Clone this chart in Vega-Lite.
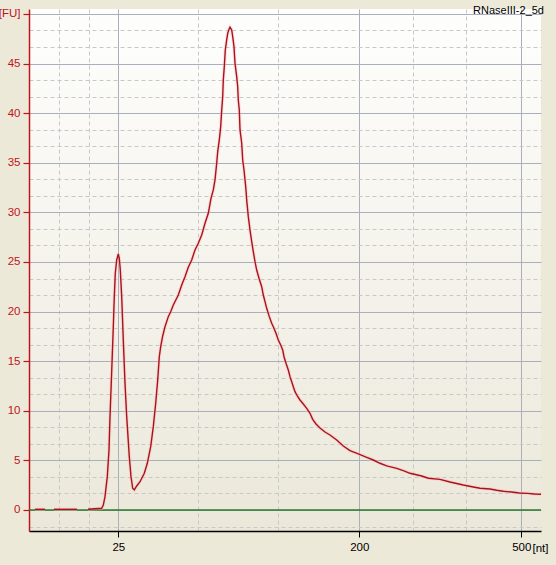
{
  "$schema": "https://vega.github.io/schema/vega-lite/v6.json",
  "width": 512,
  "height": 522,
  "autosize": "none",
  "padding": {"left": 29, "top": 9, "right": 15, "bottom": 34},
  "background": "#ece9d8",
  "title": {"text": "RNaseIII-2_5d", "anchor": "end", "fontSize": 11, "font": "Liberation Sans", "fontWeight": "normal", "color": "#000000", "offset": -8, "dx": -4},
  "config": {
    "view": {"stroke": null, "fill": {"gradient": "linear", "x1": 0, "y1": 0, "x2": 0, "y2": 1, "stops": [{"offset": 0, "color": "#fefefd"}, {"offset": 1, "color": "#ebe8da"}]}}
  },
  "datasets": {
    "curve": [
      {"t": 20.6, "v": 0.07, "seg": "a"}, {"t": 21.6, "v": 0.07, "seg": "a"},
      {"t": 22.5, "v": 0.07, "seg": "b"}, {"t": 24.8, "v": 0.07, "seg": "b"},
      {"t": 25.9, "v": 0.07, "seg": "c"},
      {"t": 27.27, "v": 0.17, "seg": "c"},
      {"t": 27.43, "v": 0.5, "seg": "c"},
      {"t": 27.6, "v": 1.34, "seg": "c"},
      {"t": 27.83, "v": 3.36, "seg": "c"},
      {"t": 28.0, "v": 6.05, "seg": "c"},
      {"t": 28.1, "v": 9.41, "seg": "c"},
      {"t": 28.2, "v": 12.1, "seg": "c"},
      {"t": 28.3, "v": 14.82, "seg": "c"},
      {"t": 28.43, "v": 18.48, "seg": "c"},
      {"t": 28.53, "v": 21.5, "seg": "c"},
      {"t": 28.63, "v": 23.86, "seg": "c"},
      {"t": 28.77, "v": 25.2, "seg": "c"},
      {"t": 28.93, "v": 25.81, "seg": "c"},
      {"t": 29.03, "v": 25.37, "seg": "c"},
      {"t": 29.13, "v": 24.19, "seg": "c"},
      {"t": 29.27, "v": 21.5, "seg": "c"},
      {"t": 29.43, "v": 17.14, "seg": "c"},
      {"t": 29.6, "v": 12.77, "seg": "c"},
      {"t": 29.77, "v": 9.41, "seg": "c"},
      {"t": 30.03, "v": 5.37, "seg": "c"},
      {"t": 30.2, "v": 3.36, "seg": "c"},
      {"t": 30.37, "v": 2.19, "seg": "c"},
      {"t": 30.53, "v": 2.02, "seg": "c"},
      {"t": 30.77, "v": 2.42, "seg": "c"},
      {"t": 31.1, "v": 2.85, "seg": "c"},
      {"t": 31.53, "v": 3.7, "seg": "c"},
      {"t": 31.83, "v": 4.71, "seg": "c"},
      {"t": 32.17, "v": 6.38, "seg": "c"},
      {"t": 32.43, "v": 8.4, "seg": "c"},
      {"t": 32.67, "v": 10.76, "seg": "c"},
      {"t": 32.87, "v": 13.1, "seg": "c"},
      {"t": 33.03, "v": 15.45, "seg": "c"},
      {"t": 33.17, "v": 16.46, "seg": "c"},
      {"t": 33.37, "v": 17.54, "seg": "c"},
      {"t": 33.6, "v": 18.48, "seg": "c"},
      {"t": 33.93, "v": 19.49, "seg": "c"},
      {"t": 34.17, "v": 19.99, "seg": "c"},
      {"t": 34.43, "v": 20.67, "seg": "c"},
      {"t": 34.93, "v": 21.67, "seg": "c"},
      {"t": 35.27, "v": 22.68, "seg": "c"},
      {"t": 35.6, "v": 23.52, "seg": "c"},
      {"t": 35.93, "v": 24.47, "seg": "c"},
      {"t": 36.27, "v": 25.2, "seg": "c"},
      {"t": 36.6, "v": 26.21, "seg": "c"},
      {"t": 36.93, "v": 26.88, "seg": "c"},
      {"t": 37.27, "v": 27.72, "seg": "c"},
      {"t": 37.6, "v": 28.9, "seg": "c"},
      {"t": 37.93, "v": 29.91, "seg": "c"},
      {"t": 38.2, "v": 31.42, "seg": "c"},
      {"t": 38.43, "v": 32.26, "seg": "c"},
      {"t": 38.6, "v": 33.27, "seg": "c"},
      {"t": 38.77, "v": 34.95, "seg": "c"},
      {"t": 38.87, "v": 36.12, "seg": "c"},
      {"t": 39.03, "v": 37.3, "seg": "c"},
      {"t": 39.17, "v": 38.64, "seg": "c"},
      {"t": 39.27, "v": 40.32, "seg": "c"},
      {"t": 39.37, "v": 41.66, "seg": "c"},
      {"t": 39.43, "v": 43.35, "seg": "c"},
      {"t": 39.53, "v": 44.69, "seg": "c"},
      {"t": 39.63, "v": 46.37, "seg": "c"},
      {"t": 39.77, "v": 47.38, "seg": "c"},
      {"t": 39.87, "v": 48.05, "seg": "c"},
      {"t": 40.0, "v": 48.46, "seg": "c"},
      {"t": 40.1, "v": 48.66, "seg": "c"},
      {"t": 40.27, "v": 48.39, "seg": "c"},
      {"t": 40.37, "v": 47.71, "seg": "c"},
      {"t": 40.5, "v": 46.7, "seg": "c"},
      {"t": 40.6, "v": 45.03, "seg": "c"},
      {"t": 40.77, "v": 43.68, "seg": "c"},
      {"t": 40.87, "v": 42.67, "seg": "c"},
      {"t": 40.93, "v": 41.33, "seg": "c"},
      {"t": 41.03, "v": 40.32, "seg": "c"},
      {"t": 41.1, "v": 38.31, "seg": "c"},
      {"t": 41.27, "v": 36.97, "seg": "c"},
      {"t": 41.37, "v": 35.28, "seg": "c"},
      {"t": 41.5, "v": 34.27, "seg": "c"},
      {"t": 41.67, "v": 32.59, "seg": "c"},
      {"t": 41.77, "v": 31.25, "seg": "c"},
      {"t": 41.93, "v": 29.57, "seg": "c"},
      {"t": 42.1, "v": 28.23, "seg": "c"},
      {"t": 42.27, "v": 27.05, "seg": "c"},
      {"t": 42.43, "v": 26.04, "seg": "c"},
      {"t": 42.6, "v": 25.03, "seg": "c"},
      {"t": 42.77, "v": 24.19, "seg": "c"},
      {"t": 43.0, "v": 23.36, "seg": "c"},
      {"t": 43.27, "v": 22.51, "seg": "c"},
      {"t": 43.43, "v": 21.67, "seg": "c"},
      {"t": 43.6, "v": 21.0, "seg": "c"},
      {"t": 43.77, "v": 20.33, "seg": "c"},
      {"t": 44.03, "v": 19.49, "seg": "c"},
      {"t": 44.27, "v": 18.82, "seg": "c"},
      {"t": 44.43, "v": 18.48, "seg": "c"},
      {"t": 44.7, "v": 17.81, "seg": "c"},
      {"t": 44.93, "v": 17.14, "seg": "c"},
      {"t": 45.17, "v": 16.63, "seg": "c"},
      {"t": 45.37, "v": 16.13, "seg": "c"},
      {"t": 45.5, "v": 15.45, "seg": "c"},
      {"t": 45.7, "v": 14.79, "seg": "c"},
      {"t": 45.93, "v": 14.11, "seg": "c"},
      {"t": 46.1, "v": 13.44, "seg": "c"},
      {"t": 46.27, "v": 12.93, "seg": "c"},
      {"t": 46.43, "v": 12.43, "seg": "c"},
      {"t": 46.6, "v": 11.93, "seg": "c"},
      {"t": 46.83, "v": 11.49, "seg": "c"},
      {"t": 47.1, "v": 11.09, "seg": "c"},
      {"t": 47.43, "v": 10.69, "seg": "c"},
      {"t": 47.77, "v": 10.25, "seg": "c"},
      {"t": 48.1, "v": 9.75, "seg": "c"},
      {"t": 48.37, "v": 9.14, "seg": "c"},
      {"t": 48.7, "v": 8.67, "seg": "c"},
      {"t": 49.1, "v": 8.27, "seg": "c"},
      {"t": 49.6, "v": 7.86, "seg": "c"},
      {"t": 50.1, "v": 7.56, "seg": "c"},
      {"t": 50.77, "v": 7.06, "seg": "c"},
      {"t": 51.43, "v": 6.45, "seg": "c"},
      {"t": 52.1, "v": 5.98, "seg": "c"},
      {"t": 52.93, "v": 5.65, "seg": "c"},
      {"t": 53.77, "v": 5.31, "seg": "c"},
      {"t": 54.43, "v": 5.04, "seg": "c"},
      {"t": 55.1, "v": 4.71, "seg": "c"},
      {"t": 55.77, "v": 4.44, "seg": "c"},
      {"t": 56.77, "v": 4.2, "seg": "c"},
      {"t": 57.43, "v": 3.96, "seg": "c"},
      {"t": 58.1, "v": 3.7, "seg": "c"},
      {"t": 59.27, "v": 3.43, "seg": "c"},
      {"t": 59.93, "v": 3.2, "seg": "c"},
      {"t": 61.1, "v": 3.09, "seg": "c"},
      {"t": 62.1, "v": 2.82, "seg": "c"},
      {"t": 63.43, "v": 2.52, "seg": "c"},
      {"t": 64.43, "v": 2.32, "seg": "c"},
      {"t": 65.1, "v": 2.19, "seg": "c"},
      {"t": 66.1, "v": 2.12, "seg": "c"},
      {"t": 66.77, "v": 1.99, "seg": "c"},
      {"t": 67.43, "v": 1.89, "seg": "c"},
      {"t": 68.27, "v": 1.81, "seg": "c"},
      {"t": 69.03, "v": 1.71, "seg": "c"},
      {"t": 69.87, "v": 1.68, "seg": "c"},
      {"t": 70.53, "v": 1.61, "seg": "c"},
      {"t": 71.2, "v": 1.58, "seg": "c"}
    ],
    "zero": [{"level": 0}]
  },
  "layer": [
    {
      "data": {"name": "zero"},
      "mark": {"type": "rule", "color": "#2a7a2a", "strokeWidth": 1.5},
      "encoding": {
        "y": {
          "field": "level", "type": "quantitative",
          "scale": {"domain": [-2.117, 50.5], "nice": false, "zero": false},
          "axis": {
            "values": [-1.6667, 0, 1.6667, 3.3333, 5, 6.6667, 8.3333, 10, 11.6667, 13.3333, 15, 16.6667, 18.3333, 20, 21.6667, 23.3333, 25, 26.6667, 28.3333, 30, 31.6667, 33.3333, 35, 36.6667, 38.3333, 40, 41.6667, 43.3333, 45, 46.6667, 48.3333, 50],
            "tickCount": 200,
            "title": null,
            "domainColor": "#c0141c",
            "domainWidth": 1.5,
            "tickColor": "#c0141c",
            "tickSize": 6,
            "tickWidth": 1.2,
            "tickOpacity": {"condition": {"test": "abs(datum.value/5 - round(datum.value/5)) < 0.01", "value": 1}, "value": 0},
            "grid": true,
            "gridColor": {"condition": {"test": "abs(datum.value/5 - round(datum.value/5)) < 0.01", "value": "#a9b0bb"}, "value": "#c8c8c8"},
            "gridDash": {"condition": {"test": "abs(datum.value/5 - round(datum.value/5)) < 0.01", "value": []}, "value": [4, 3]},
            "gridWidth": 1,
            "gridOpacity": 1,
            "labelExpr": "abs(datum.value - 50) < 0.01 ? '[FU]' : (abs(datum.value/5 - round(datum.value/5)) < 0.01 && datum.value > -0.5 ? format(datum.value, 'd') : '')",
            "labelColor": "#c0141c",
            "labelFont": "Liberation Sans",
            "labelFontSize": 11.5,
            "labelPadding": 3,
            "labelOverlap": false,
            "labelFlush": false,
            "labelBound": false
          }
        }
      }
    },
    {
      "data": {"name": "curve"},
      "mark": {"type": "line", "color": "#ffb8b8", "strokeWidth": 3.5, "opacity": 0.4, "interpolate": "linear"},
      "encoding": {
        "x": {
          "field": "t", "type": "quantitative",
          "scale": {"domain": [20, 71.2], "nice": false, "zero": false},
          "axis": {
            "values": [22.97, 25.97, 28.93, 36.93, 44.93, 53.03, 58.37, 63.67, 69.23],
            "tickCount": 200,
            "title": "[nt]",
            "titleX": 503,
            "titleY": 20,
            "titleAlign": "left",
            "titleBaseline": "alphabetic",
            "titleAnchor": null,
            "titleFont": "Liberation Sans",
            "titleFontSize": 11.5,
            "titleFontWeight": "normal",
            "titleColor": "#000000",
            "domainColor": "#000000",
            "domainWidth": 1.5,
            "tickColor": "#000000",
            "tickSize": 6,
            "tickOpacity": {"condition": {"test": "indexof([28.93, 53.03, 69.23], datum.value) >= 0", "value": 1}, "value": 0},
            "grid": true,
            "gridColor": {"condition": {"test": "indexof([28.93, 53.03, 69.23], datum.value) >= 0", "value": "#a9b0bb"}, "value": "#c8c8c8"},
            "gridDash": {"condition": {"test": "indexof([28.93, 53.03, 69.23], datum.value) >= 0", "value": []}, "value": [4, 3]},
            "gridOpacity": 1,
            "labelExpr": "datum.value == 28.93 ? '25' : (datum.value == 53.03 ? '200' : (datum.value == 69.23 ? '500' : ''))",
            "labelColor": "#000000",
            "labelFont": "Liberation Sans",
            "labelFontSize": 11.5,
            "labelPadding": 4,
            "labelOverlap": false,
            "labelFlush": false,
            "labelBound": false
          }
        },
        "y": {"field": "v", "type": "quantitative"},
        "detail": {"field": "seg", "type": "nominal"}
      }
    },
    {
      "data": {"name": "curve"},
      "mark": {"type": "line", "color": "#a8121c", "strokeWidth": 1.4, "interpolate": "linear"},
      "encoding": {
        "x": {"field": "t", "type": "quantitative"},
        "y": {"field": "v", "type": "quantitative"},
        "detail": {"field": "seg", "type": "nominal"}
      }
    }
  ]
}
